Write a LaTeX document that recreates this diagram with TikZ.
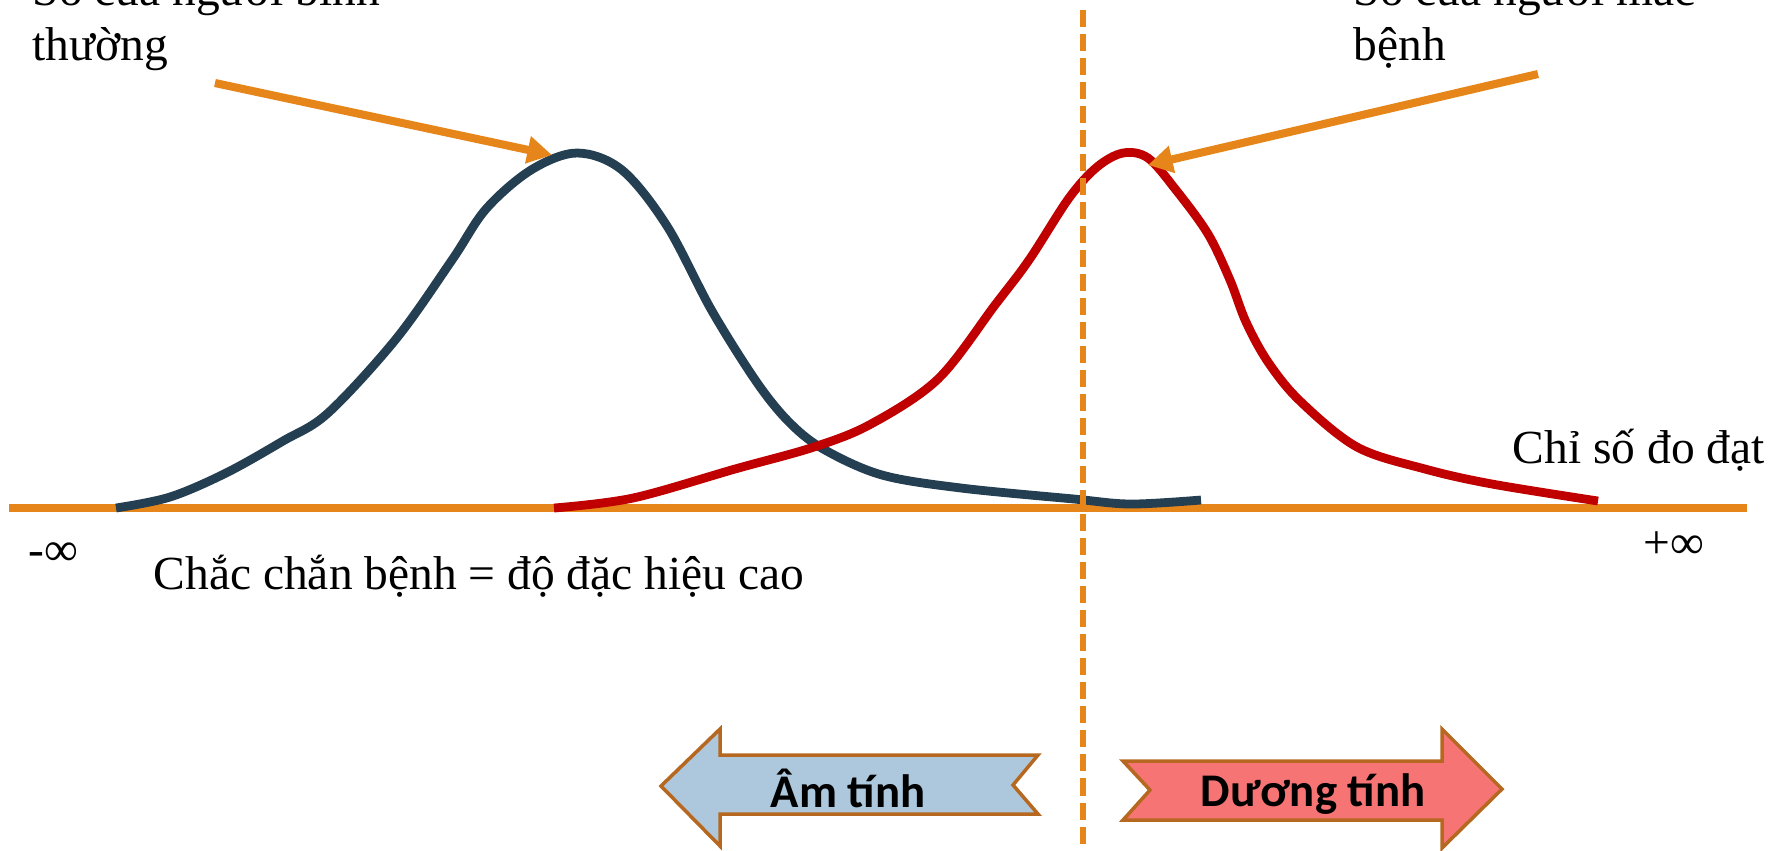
\documentclass[tikz,border=0pt]{standalone}
\usepackage{fontspec}
\setmainfont{Liberation Serif}
\newfontfamily\labelfont{Carlito}
\usetikzlibrary{arrows.meta,positioning}
\definecolor{axisorange}{RGB}{230,134,26}
\definecolor{normblue}{RGB}{36,62,82}
\definecolor{sickred}{RGB}{192,0,0}
\definecolor{negfill}{RGB}{173,200,221}
\definecolor{posfill}{RGB}{247,116,116}
\definecolor{boxborder}{RGB}{182,104,32}
\tikzset{
  bodytext/.style={inner sep=0pt,font=\fontsize{13.5pt}{15.5pt}\selectfont},
  ptarrow/.style={-{Triangle[length=7pt,width=7.5pt]},line width=2.3pt,draw=axisorange},
  distcurve/.style={line width=2.5pt},
  cutline/.style={draw=axisorange,line width=1.7pt,dash pattern=on 0.17cm off 0.07cm},
  resultbox/.style={draw=boxborder,line width=1pt,line join=miter},
  resulttext/.style={font=\labelfont\bfseries\fontsize{13.3pt}{15pt}\selectfont}
}
\begin{document}
\begin{tikzpicture}[x=0.01cm,y=-0.01cm]
  \useasboundingbox (0,0) rectangle (1773,850);
  \clip (0,0) rectangle (1773,850);
  % axis
  \coordinate (axl) at (9,508);
  \coordinate (axr) at (1747,508);
  \draw[draw=axisorange,line width=2.2pt] (axl)--(axr);
  % distributions
  \draw[distcurve,draw=normblue] plot[smooth,tension=0.55] coordinates {
    (116,508) (170,497) (226,473) (283,441) (328,413) (396,339) (452,260)
    (486,209) (531,170) (577,153) (622,170) (667,226) (712,311) (758,384)
    (791,424) (825,450) (882,475) (961,488) (1074,499) (1131,504) (1201,500)};
  \draw[distcurve,draw=sickred] plot[smooth,tension=0.55] coordinates {
    (554,508) (633,498) (735,469) (814,447) (871,424) (938,379) (995,305)
    (1029,260) (1069,198) (1097,167) (1123,153) (1148,158) (1176,190)
    (1208,234) (1230,280) (1246,322) (1268,362) (1300,401) (1357,447)
    (1425,469) (1492,484) (1598,501)};
  % labels
  \node[bodytext,anchor=base west,align=left] (normlbl) at (32,60) {Số của người bình\\thường};
  \node[bodytext,anchor=base west,align=left] (sicklbl) at (1353,60) {Số của người mắc\\bệnh};
  \node[bodytext,anchor=base west] (xlbl) at (1512,463) {Chỉ số đo đạt};
  \node[bodytext,anchor=base west] (minf) at (28,565) {-∞};
  \node[bodytext,anchor=base west] (pinf) at (1643,558) {+∞};
  \node[bodytext,anchor=base west] (spec) at (153,589) {Chắc chắn bệnh = độ đặc hiệu cao};
  % pointers
  \coordinate (normtail) at (215,83);
  \coordinate (normpeak) at (552,155);
  \coordinate (sicktail) at (1538,74);
  \coordinate (sickpeak) at (1148,165);
  \draw[ptarrow] (normtail)--(normpeak);
  \draw[ptarrow] (sicktail)--(sickpeak);
  % cut-off
  \coordinate (cuttop) at (1083,10);
  \coordinate (cutbot) at (1083,845);
  \draw[cutline] (cuttop)--(cutbot);
  % result arrows
  \draw[resultbox,fill=negfill] (661,786) -- (720,729) -- (720,755) -- (1038,755)
    -- (1013,785) -- (1038,814) -- (720,814) -- (720,846) -- cycle;
  \draw[resultbox,fill=posfill] (1123,761) -- (1442,761) -- (1442,729) -- (1502,789)
    -- (1442,848) -- (1442,820) -- (1123,820) -- (1150,790) -- cycle;
  \node[resulttext] (neg) at (848,788) {Âm tính};
  \node[resulttext] (pos) at (1313,794) {Dương tính};
\end{tikzpicture}
\end{document}
